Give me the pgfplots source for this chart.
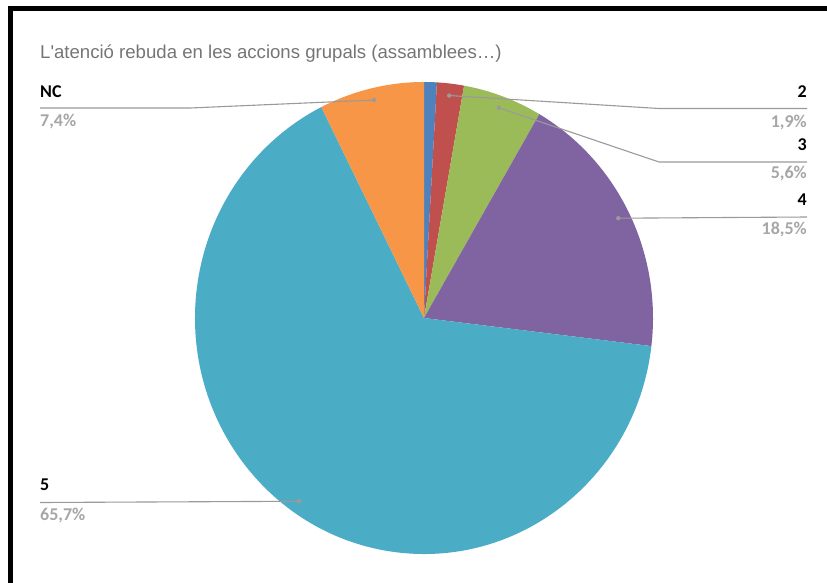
\documentclass[border=0pt]{standalone}
\usepackage{pgfplots}
\pgfplotsset{compat=1.18}
\usepackage{pgfplotstable}
\usepackage{fontspec}
\setmainfont{Carlito}
\newfontfamily\titlefont{Liberation Sans}
\definecolor{c1}{HTML}{4F81BD}
\definecolor{c2}{HTML}{C0504D}
\definecolor{c3}{HTML}{9BBB59}
\definecolor{c4}{HTML}{8064A2}
\definecolor{c5}{HTML}{4BACC6}
\definecolor{c6}{HTML}{F79646}
\definecolor{lblgray}{HTML}{A6A6A6}
\definecolor{linegray}{HTML}{9A9A9A}
\definecolor{titlegray}{HTML}{757575}
\pgfplotstableread{
label value color
1 0.9 c1
2 1.9 c2
3 5.6 c3
4 18.5 c4
5 65.7 c5
NC 7.4 c6
}\piedata
\begin{document}
\begin{tikzpicture}
\path[use as bounding box] (0,0) rectangle (827pt,582pt);
\begin{axis}[at={(0,0)}, anchor=south west, scale only axis,
  width=827pt, height=582pt, xmin=0, xmax=827, ymin=0, ymax=582,
  y dir=reverse, hide axis, clip=false]
\def\cum{0}
\pgfplotsforeachungrouped \i in {0,...,5}{%
  \pgfplotstablegetelem{\i}{value}\of\piedata \let\val\pgfplotsretval
  \pgfplotstablegetelem{\i}{color}\of\piedata \let\col\pgfplotsretval
  \pgfmathsetmacro\sa{90-3.6*\cum}%
  \pgfmathsetmacro\cum{\cum+\val}%
  \pgfmathsetmacro\ea{90-3.6*\cum}%
  \pgfmathsetmacro\ma{(\sa+\ea)/2}%
  \edef\cmd{\noexpand\fill[\col] (axis cs:424,318) -- ++(\sa:229pt and 236pt) arc[start angle=\sa, end angle=\ea, x radius=229pt, y radius=236pt] -- cycle;
  \noexpand\path (axis cs:424,318) ++(\ma:217pt and 224pt) coordinate (p\i);}%
  \cmd
}
% frame
\draw[black, line width=5pt] (axis cs:8,8) -- (axis cs:830,8);
\draw[black, line width=5.5pt] (axis cs:10.5,5.5) -- (axis cs:10.5,585);
% title
\node[anchor=base west, inner sep=0pt, text=titlegray, font=\titlefont\fontsize{18.6}{20}\selectfont] at (axis cs:40,58) {L\textquotesingle atenció rebuda en les accions grupals (assamblees…)};
% leader lines
\draw[linegray, line width=1.1pt] (axis cs:40,108) -- (axis cs:190,108) -- (p5);
\draw[linegray, line width=1.1pt] (axis cs:807,108.5) -- (axis cs:659,108.5) -- (p1);
\draw[linegray, line width=1.1pt] (axis cs:807,162) -- (axis cs:659,162) -- (p2);
\draw[linegray, line width=1.1pt] (axis cs:807,217) -- (p3);
\draw[linegray, line width=1.1pt] (axis cs:40,502.5) -- (p4);
\fill[linegray] (p1) circle (2.2pt);
\fill[linegray] (p2) circle (2.2pt);
\fill[linegray] (p3) circle (2.2pt);
\fill[linegray] (p4) circle (2.2pt);
\fill[linegray] (p5) circle (2.2pt);
% labels
\tikzset{lab/.style={inner sep=0pt, font=\fontsize{18}{20}\selectfont\bfseries}}
\node[lab, anchor=base west] at (axis cs:40,97) {NC};
\node[lab, anchor=base west, text=lblgray] at (axis cs:40,126) {7,4\%};
\node[lab, anchor=base east] at (axis cs:807,97) {2};
\node[lab, anchor=base east, text=lblgray] at (axis cs:807,127) {1,9\%};
\node[lab, anchor=base east] at (axis cs:807,150) {3};
\node[lab, anchor=base east, text=lblgray] at (axis cs:807,178) {5,6\%};
\node[lab, anchor=base east] at (axis cs:807,205) {4};
\node[lab, anchor=base east, text=lblgray] at (axis cs:807,234) {18,5\%};
\node[lab, anchor=base west] at (axis cs:40,490) {5};
\node[lab, anchor=base west, text=lblgray] at (axis cs:40,520) {65,7\%};
\end{axis}
\end{tikzpicture}
\end{document}
